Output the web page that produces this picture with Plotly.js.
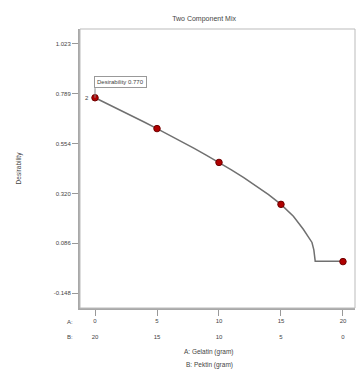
<!DOCTYPE html>
<html><head><meta charset="utf-8">
<script src="https://cdn.plot.ly/plotly-3.0.1.min.js"></script>
<style>html,body{margin:0;padding:0;background:#fff}#c{width:358px;height:370px}</style>
</head><body><div id="c"></div>
<script>
// Design points
const gelatin = [0, 5, 10, 15, 20];
const pektin = [20, 15, 10, 5, 0];
const desirPoints = [0.770, 0.625, 0.466, 0.269, 0.000];
// Predicted desirability curve
const curveX = [0, 1, 2, 3, 4, 5, 6, 7, 8, 9, 10, 11, 12, 13, 14, 15, 16, 16.8, 17.2, 17.5, 17.65, 17.72, 17.76, 18, 19, 20];
const curveY = [0.770, 0.742, 0.713, 0.684, 0.655, 0.625, 0.595, 0.564, 0.532, 0.499, 0.466, 0.431, 0.395, 0.357, 0.315, 0.269, 0.213, 0.152, 0.120, 0.090, 0.055, 0.025, 0.002, 0.002, 0.002, 0.002];
const yTicks = [1.023, 0.789, 0.554, 0.320, 0.086, -0.148];
const yTickText = ["1.023", "0.789", "0.554", "0.320", "0.086", "-0.148"];
const xTicks = [0, 5, 10, 15, 20];
const xTickText = xTicks.map((v, i) => v + "<br><br>" + pektin[i]);
const labelText = "Desirability 0.770";

const font = "Liberation Sans, Arial, sans-serif";
const txt = "#444444";
const traces = [
  {x: curveX, y: curveY, mode: "lines", line: {color: "#707070", width: 1.5}, hoverinfo: "skip"},
  {x: gelatin, y: desirPoints, mode: "markers",
   marker: {color: "#b00000", size: 6.5, line: {color: "#700000", width: 1}}}
];
const layout = {
  width: 358, height: 370,
  margin: {l: 80, r: 3, t: 29, b: 62},
  showlegend: false,
  paper_bgcolor: "#fff", plot_bgcolor: "#fff",
  font: {family: font, color: txt, size: 6},
  title: {text: "Two Component Mix", font: {size: 7, color: txt, family: font}, x: 0.57, xanchor: "center", y: 0.957},
  xaxis: {range: [-1.21, 20.97], tickvals: xTicks, ticktext: xTickText, showgrid: false, zeroline: false,
          showline: true, linecolor: "#a8a8a8", linewidth: 2, ticks: "outside", ticklen: 6, tickcolor: "#999", tickwidth: 1,
          tickfont: {size: 6, color: txt}},
  yaxis: {range: [-0.218, 1.093], tickvals: yTicks, ticktext: yTickText, showgrid: false, zeroline: false,
          showline: true, linecolor: "#a8a8a8", linewidth: 2, ticks: "outside", ticklen: 6, tickcolor: "#999", tickwidth: 1,
          tickfont: {size: 6, color: txt},
          title: {text: "Desirability", font: {size: 6.5, color: txt}, standoff: 32}},
  shapes: [
    {type: "rect", xref: "paper", yref: "paper", x0: 0, x1: 1, y0: 0, y1: 1, line: {color: "#bbb", width: 1}},
    {type: "line", xref: "x", yref: "y", x0: gelatin[0], x1: gelatin[0], y0: desirPoints[0], y1: desirPoints[0] + 0.045, line: {color: "#888", width: 1}}
  ],
  annotations: [
    {xref: "x", yref: "y", x: gelatin[0], y: desirPoints[0] + 0.045, xanchor: "left", yanchor: "bottom", showarrow: false,
     text: labelText, font: {size: 6, color: txt}, bordercolor: "#999", borderwidth: 1, borderpad: 2, bgcolor: "#fff", xshift: -1},
    {xref: "x", yref: "y", x: gelatin[0], y: desirPoints[0], xanchor: "right", showarrow: false, text: "2", xshift: -4, font: {size: 6, color: txt}},
    {xref: "paper", yref: "paper", x: -0.02, y: 0, yshift: -14, xanchor: "right", yanchor: "middle", showarrow: false, text: "A:", font: {size: 6, color: txt}},
    {xref: "paper", yref: "paper", x: -0.02, y: 0, yshift: -29, xanchor: "right", yanchor: "middle", showarrow: false, text: "B:", font: {size: 6, color: txt}},
    {xref: "paper", yref: "paper", x: 0.47, y: 0, yshift: -44, xanchor: "center", yanchor: "middle", showarrow: false, text: "A: Gelatin (gram)", font: {size: 6.5, color: txt}},
    {xref: "paper", yref: "paper", x: 0.47, y: 0, yshift: -57, xanchor: "center", yanchor: "middle", showarrow: false, text: "B: Pektin (gram)", font: {size: 6.5, color: txt}}
  ]
};
Plotly.newPlot("c", traces, layout, {displayModeBar: false, staticPlot: true});
</script></body></html>
